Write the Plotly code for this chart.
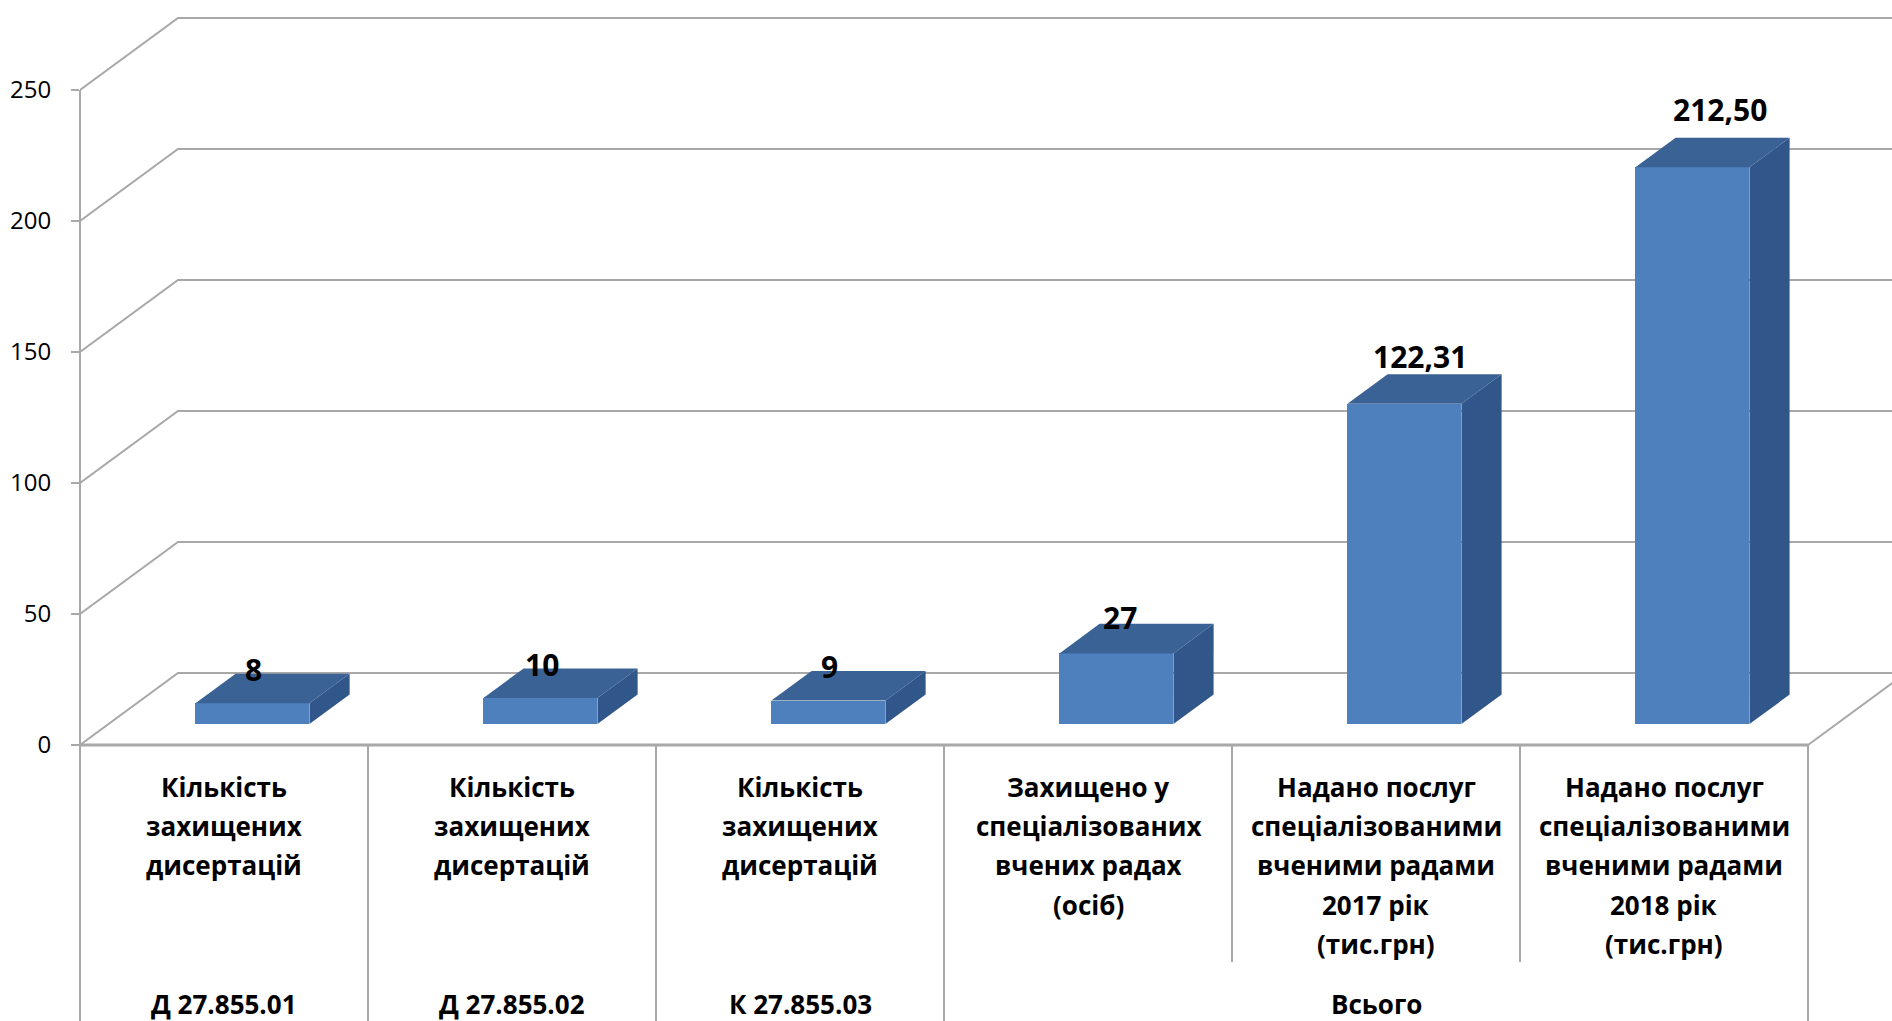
import plotly.graph_objects as go

# ---- data ----
values = [8, 10, 9, 27, 122.31, 212.50]
value_labels = ["8", "10", "9", "27", "122,31", "212,50"]
category_lines = [
    ["Кількість", "захищених", "дисертацій"],
    ["Кількість", "захищених", "дисертацій"],
    ["Кількість", "захищених", "дисертацій"],
    ["Захищено у", "спеціалізованих", "вчених радах", "(осіб)"],
    ["Надано послуг", "спеціалізованими", "вченими радами", "2017 рік", "(тис.грн)"],
    ["Надано послуг", "спеціалізованими", "вченими радами", "2018 рік", "(тис.грн)"],
]
group_labels = ["Д 27.855.01", "Д 27.855.02", "К 27.855.03", "Всього"]
group_spans = [(0, 1), (1, 2), (2, 3), (3, 6)]
y_ticks = [0, 50, 100, 150, 200, 250]

# ---- page geometry ----
W, H = 1892, 1021
ML, MT = 80, 16
ZERO_PX = 745          # pixel row of value 0 on the front edge
PLOT_BOTTOM = 752
MB = H - PLOT_BOTTOM
PLOT_H = PLOT_BOTTOM - MT
PX_PER_CAT = 288
PX_PER_UNIT = 2.62
N = len(values)

XMAX = (W - ML) / PX_PER_CAT
YMIN = -(PLOT_BOTTOM - ZERO_PX) / PX_PER_UNIT
YMAX = (ZERO_PX - MT) / PX_PER_UNIT

# oblique depth of the 3D box (in data units)
DEPTH_X = 98 / PX_PER_CAT
DEPTH_Y = 72 / PX_PER_UNIT
BAR_W = 114 / PX_PER_CAT
BAR_FRONT = 0.29      # depth fraction of the bar's front face
BAR_DEPTH = 0.41      # depth fraction taken by the bar

FRONT_COL = "#4E80BD"
TOP_COL = "#3A6295"
SIDE_COL = "#31578A"
GRID_COL = "#A8A8A8"
FONT = "Open Sans"


def paper_y(px):
    return (PLOT_BOTTOM - px) / PLOT_H


fig = go.Figure()
shapes = []

# walls (drawn beneath the bars): left-wall diagonals and back-wall gridlines
for v in y_ticks:
    shapes.append(dict(type="path", xref="x", yref="y", layer="below",
                       path=f"M 0,{v} L {DEPTH_X},{v + DEPTH_Y} L {XMAX + 1},{v + DEPTH_Y}",
                       line=dict(color=GRID_COL, width=2)))
# right edge and front edge of the floor
shapes.append(dict(type="line", xref="x", yref="y", layer="below",
                   x0=N, y0=0, x1=N + DEPTH_X, y1=DEPTH_Y,
                   line=dict(color=GRID_COL, width=2)))
shapes.append(dict(type="line", xref="x", yref="y", layer="below",
                   x0=0, y0=0, x1=N, y1=0,
                   line=dict(color=GRID_COL, width=3)))

# bars: front faces
shift_x = BAR_FRONT * DEPTH_X
shift_y = BAR_FRONT * DEPTH_Y
dx = BAR_DEPTH * DEPTH_X
dy = BAR_DEPTH * DEPTH_Y
centers = [i + 0.5 + shift_x for i in range(N)]
fig.add_trace(go.Bar(x=centers, y=values, base=[shift_y] * N, width=BAR_W,
                     marker=dict(color=FRONT_COL, line=dict(width=0)),
                     hoverinfo="skip", showlegend=False))

# bars: top and side faces
for c, v in zip(centers, values):
    xl, xr = c - BAR_W / 2, c + BAR_W / 2
    bot, top = shift_y, shift_y + v
    fig.add_trace(go.Scatter(
        x=[xl, xr, xr + dx, xl + dx, xl], y=[top, top, top + dy, top + dy, top],
        mode="lines", fill="toself", fillcolor=TOP_COL,
        line=dict(width=0, color=TOP_COL), hoverinfo="skip", showlegend=False))
    fig.add_trace(go.Scatter(
        x=[xr, xr + dx, xr + dx, xr, xr], y=[bot, bot + dy, top + dy, top, bot],
        mode="lines", fill="toself", fillcolor=SIDE_COL,
        line=dict(width=0, color=SIDE_COL), hoverinfo="skip", showlegend=False))

annotations = []
# value labels above each bar (they drift up and right with bar height)
for c, v, lab in zip(centers, values, value_labels):
    annotations.append(dict(
        x=c, y=shift_y + v + dy, xref="x", yref="y",
        text=f"<b>{lab}</b>", showarrow=False, yanchor="middle",
        xshift=0.13 * v, yshift=3 + 0.12 * v,
        font=dict(family=FONT, size=30, color="#000000")))

# category labels (first level)
LINE_PX = [787, 826, 865, 905, 944]
for i, lines in enumerate(category_lines):
    for j, t in enumerate(lines):
        annotations.append(dict(
            x=i + 0.5, y=paper_y(LINE_PX[j]), xref="x", yref="paper",
            text=f"<b>{t}</b>", showarrow=False, yanchor="middle",
            font=dict(family=FONT, size=26, color="#000000")))

# group labels (second level)
for lab, (a, b) in zip(group_labels, group_spans):
    annotations.append(dict(
        x=(a + b) / 2, y=paper_y(1004), xref="x", yref="paper",
        text=f"<b>{lab}</b>", showarrow=False, yanchor="middle",
        font=dict(family=FONT, size=26, color="#000000")))

# value axis line and category separators
shapes.append(dict(type="line", xref="paper", yref="paper", x0=0, x1=0,
                   y0=paper_y(ZERO_PX - 250 * PX_PER_UNIT), y1=paper_y(H + 5),
                   line=dict(color=GRID_COL, width=2)))
group_edges = {a for a, _ in group_spans} | {b for _, b in group_spans}
for k in range(1, N + 1):
    end_px = H + 5 if k in group_edges else 962
    shapes.append(dict(type="line", xref="x", yref="paper", x0=k, x1=k,
                       y0=paper_y(ZERO_PX), y1=paper_y(end_px),
                       line=dict(color=GRID_COL, width=2)))

fig.update_layout(
    width=W, height=H,
    margin=dict(l=ML, r=0, t=MT, b=MB, pad=0),
    paper_bgcolor="white", plot_bgcolor="white",
    showlegend=False, bargap=0,
    xaxis=dict(range=[0, XMAX], visible=False, fixedrange=True),
    yaxis=dict(range=[YMIN, YMAX], tickvals=y_ticks,
               ticktext=[str(t) for t in y_ticks],
               ticks="outside", ticklen=8, tickwidth=2, tickcolor=GRID_COL,
               ticklabelstandoff=15,
               showgrid=False, zeroline=False, showline=False,
               tickfont=dict(family=FONT, size=24, color="#000000"),
               fixedrange=True),
    annotations=annotations,
    shapes=shapes,
)

fig.write_html("out.html")
